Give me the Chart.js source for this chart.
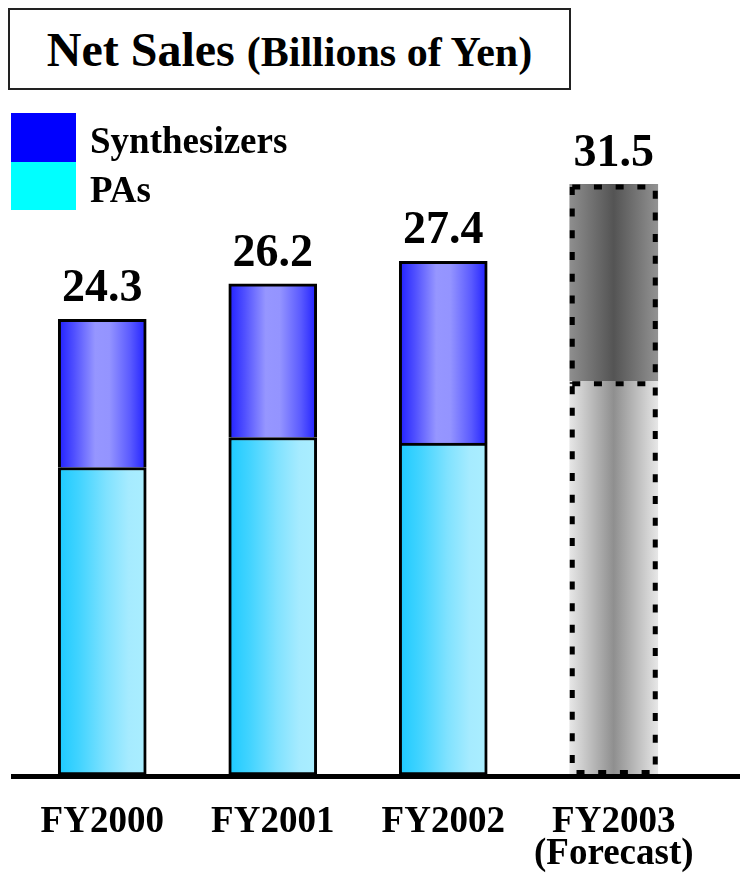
<!DOCTYPE html>
<html>
<head>
<meta charset="utf-8">
<script src="https://cdn.jsdelivr.net/npm/chart.js@4.4.1/dist/chart.umd.min.js"></script>
<style>
  html, body { margin: 0; padding: 0; background: #fff; }
  #wrap { position: relative; width: 740px; height: 879px; overflow: hidden;
          font-family: "Liberation Serif", "Times New Roman", serif; font-weight: bold; color: #000; }
  #chart { position: absolute; left: 0; top: 0; }
  #title { position: absolute; left: 8px; top: 8px; width: 559px; height: 78px;
           border: 2px solid #222; background: #fff; }
  #title .t { position: absolute; left: 0; right: 0; top: 16px; text-align: center;
              font-size: 48px; line-height: 48px; white-space: nowrap; }
  #title .small { font-size: 42px; line-height: 1; }
  .sw { position: absolute; left: 11px; width: 65px; }
  .lg { position: absolute; left: 90px; font-size: 37px; line-height: 37px; white-space: nowrap; }
</style>
</head>
<body>
<div id="wrap">
  <canvas id="chart" width="740" height="879"></canvas>
  <div id="title"><div class="t">Net Sales <span class="small">(Billions of Yen)</span></div></div>
  <div class="sw" style="top:113px;height:49px;background:#0000ff"></div>
  <div class="sw" style="top:162px;height:48px;background:#00ffff"></div>
  <div class="lg" style="top:122px">Synthesizers</div>
  <div class="lg" style="top:171px">PAs</div>
</div>
<script>
// ---- data ----
const categories = ["FY2000", "FY2001", "FY2002", "FY2003"];
const tickLabels = ["FY2000", "FY2001", "FY2002", ["FY2003", "(Forecast)"]];
const pas = [16.4, 18.0, 17.7, 21.0];
const synth = [7.9, 8.2, 9.7, 10.5];
const totals = [24.3, 26.2, 27.4, 31.5];
const forecastIndex = 3;

// ---- styles ----
const BAR = 88;
const FONT = '"Liberation Serif", "Times New Roman", serif';
const synthStops = [[0, '#2020ff'], [0.18, '#5050ff'], [0.42, '#9696ff'], [0.58, '#9494ff'], [0.82, '#5a5aff'], [1, '#2020ff']];
const pasStops = [[0, '#1ccaff'], [0.25, '#44d4ff'], [0.55, '#80e2ff'], [0.8, '#a6ebff'], [1, '#aaeeff']];
const fcTopStops = [[0, '#8e8e8e'], [0.5, '#545454'], [1, '#929292']];
const fcBotStops = [[0, '#e6e6e6'], [0.5, '#8f8f8f'], [1, '#e6e6e6']];

function grad(chart, idx, stops) {
  const x = chart.scales.x.getPixelForValue(idx);
  const g = chart.ctx.createLinearGradient(x - BAR / 2, 0, x + BAR / 2, 0);
  stops.forEach(([o, c]) => g.addColorStop(o, c));
  return g;
}
function fill(normal, forecast) {
  return (c) => {
    const ch = c.chart;
    if (!ch.chartArea || !ch.scales.x) return normal[0][1];
    return grad(ch, c.dataIndex, c.dataIndex === forecastIndex ? forecast : normal);
  };
}

const overlay = {
  id: 'overlay',
  afterDatasetsDraw(chart) {
    const ctx = chart.ctx;
    const ys = chart.scales.y, xs = chart.scales.x;
    const y0 = ys.getPixelForValue(0);
    ctx.save();
    // dashed borders for the forecast bar
    ctx.strokeStyle = '#000';
    ctx.lineWidth = 5;
    ctx.setLineDash([8, 13.7]);
    chart.data.datasets.forEach((ds, di) => {
      const el = chart.getDatasetMeta(di).data[forecastIndex];
      const p = el.getProps(['x', 'y', 'base', 'width'], true);
      const l = p.x - p.width / 2 + 2.5, r = p.x + p.width / 2 - 2.5;
      const t = Math.min(p.y, p.base) + 2.5, b = Math.max(p.y, p.base) - 2.5;
      ctx.beginPath();
      if (di === 0) {
        ctx.moveTo(l, t); ctx.lineTo(r, t); ctx.lineTo(r, b); ctx.lineTo(l, b); ctx.closePath();
      } else {
        ctx.moveTo(l, t); ctx.lineTo(r, t); ctx.lineTo(r, b + 5);
        ctx.moveTo(l, t); ctx.lineTo(l, b + 5);
      }
      ctx.stroke();
    });
    ctx.setLineDash([]);
    // base line
    ctx.fillStyle = '#000';
    ctx.fillRect(11, y0 - 1, chart.width - 11, 5);
    // total labels
    ctx.font = 'bold 46px ' + FONT;
    ctx.textAlign = 'center';
    ctx.textBaseline = 'alphabetic';
    totals.forEach((v, i) => {
      const x = xs.getPixelForValue(i);
      const y = ys.getPixelForValue(v);
      ctx.fillText(v.toFixed(1), x, y - 18);
    });
    ctx.restore();
  }
};

new Chart(document.getElementById('chart'), {
  type: 'bar',
  data: {
    labels: categories,
    datasets: [
      {
        label: 'PAs',
        data: pas,
        backgroundColor: fill(pasStops, fcBotStops),
        borderColor: '#000',
        borderWidth: (c) => c.dataIndex === forecastIndex ? 0 : 3,
        borderSkipped: false,
        barThickness: BAR
      },
      {
        label: 'Synthesizers',
        data: synth,
        backgroundColor: fill(synthStops, fcTopStops),
        borderColor: '#000',
        borderWidth: (c) => c.dataIndex === forecastIndex ? 0 : 3,
        borderSkipped: 'start',
        barThickness: BAR
      }
    ]
  },
  options: {
    responsive: false,
    animation: false,
    layout: { padding: { left: 17, right: 41, top: 100, bottom: 0 } },
    plugins: { legend: { display: false }, tooltip: { enabled: false } },
    scales: {
      x: {
        stacked: true,
        offset: true,
        grid: { display: false, drawTicks: false },
        border: { display: false },
        ticks: {
          color: '#000',
          padding: 31,
          maxRotation: 0,
          autoSkip: false,
          font: { family: FONT, size: 37, weight: 'bold', lineHeight: 32 / 37 },
          callback: (v, i) => tickLabels[i]
        },
        afterFit: (s) => { s.height = 104; }
      },
      y: {
        stacked: true,
        display: false,
        min: 0,
        max: 36
      }
    }
  },
  plugins: [overlay]
});
</script>
</body>
</html>
